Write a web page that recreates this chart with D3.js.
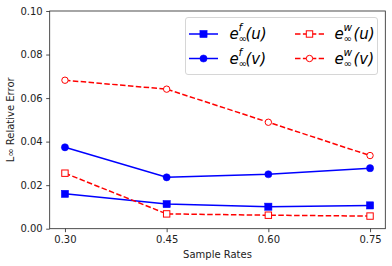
<!DOCTYPE html>
<html><head><meta charset="utf-8">
<script src="https://cdn.jsdelivr.net/npm/d3@7"></script>
<style>body{margin:0;background:#fff}svg{display:block}text{font-family:"DejaVu Sans",sans-serif}</style>
</head><body>
<svg id="c" width="392" height="266"></svg>
<script>
const rates = [0.30, 0.45, 0.60, 0.75];
const efU = [0.0160, 0.0113, 0.0101, 0.0107];
const efV = [0.0374, 0.0236, 0.0250, 0.0278];
const ewU = [0.0255, 0.0068, 0.0062, 0.0058];
const ewV = [0.0682, 0.0641, 0.0489, 0.0336];
const xTicks = [0.30, 0.45, 0.60, 0.75];
const yTicks = [0.00, 0.02, 0.04, 0.06, 0.08, 0.10];

const svg = d3.select("#c");
const L = 49.7, R = 385.3, T = 11, B = 228.7;
const x = d3.scaleLinear().domain([0.2775, 0.7725]).range([L, R]);
const y = d3.scaleLinear().domain([0, 0.10]).range([B, T]);

const xa = svg.append("g").attr("transform", `translate(0,${B})`)
  .call(d3.axisBottom(x).tickValues(xTicks).tickFormat(d3.format(".2f")).tickSize(3.5).tickPadding(3.5));
const ya = svg.append("g").attr("transform", `translate(${L},0)`)
  .call(d3.axisLeft(y).tickValues(yTicks).tickFormat(d3.format(".2f")).tickSize(3.5).tickPadding(3.5));
[xa, ya].forEach(a => {
  a.select(".domain").remove();
  a.selectAll("text").attr("font-size", 10).attr("fill", "#222").attr("font-family", "DejaVu Sans");
  a.selectAll("line").attr("stroke", "#222").attr("stroke-width", 0.8);
});
svg.append("rect").attr("x", L).attr("y", T).attr("width", R - L).attr("height", B - T)
  .attr("fill", "none").attr("stroke", "#222").attr("stroke-width", 0.8);

svg.append("text").attr("x", (L + R) / 2).attr("y", 258).attr("text-anchor", "middle")
  .attr("font-size", 10).attr("fill", "#222").text("Sample Rates");
svg.append("text").attr("transform", `translate(14,${(T + B) / 2}) rotate(-90)`).attr("text-anchor", "middle")
  .attr("font-size", 10).attr("fill", "#222").text("L∞ Relative Error");

const series = [
  {vals: efU, color: "#0000ff", dash: null, marker: "s", fill: true},
  {vals: efV, color: "#0000ff", dash: null, marker: "o", fill: true},
  {vals: ewU, color: "#ff0000", dash: "5.5,2.4", marker: "s", fill: false},
  {vals: ewV, color: "#ff0000", dash: "5.5,2.4", marker: "o", fill: false}
];
const line = d3.line().x((d, i) => x(rates[i])).y(d => y(d));

function marker(g, m, cx, cy, s) {
  const fc = s.fill ? s.color : "#fff";
  if (m === "s") {
    const h = s.fill ? 3.6 : 3.2;
    g.append("rect").attr("x", cx - h).attr("y", cy - h).attr("width", 2 * h).attr("height", 2 * h)
      .attr("fill", fc).attr("stroke", s.color).attr("stroke-width", s.fill ? 0.5 : 1);
  } else {
    g.append("circle").attr("cx", cx).attr("cy", cy).attr("r", s.fill ? 3.6 : 3.2)
      .attr("fill", fc).attr("stroke", s.color).attr("stroke-width", s.fill ? 0.5 : 1);
  }
}

series.forEach(s => {
  const g = svg.append("g");
  g.append("path").attr("d", line(s.vals)).attr("fill", "none").attr("stroke", s.color)
    .attr("stroke-width", 1.5).attr("stroke-dasharray", s.dash);
  s.vals.forEach((v, i) => marker(g, s.marker, x(rates[i]), y(v), s));
});

// legend
const lg = svg.append("g");
lg.append("rect").attr("x", 185.5).attr("y", 17.5).attr("width", 192).attr("height", 57).attr("rx", 2.5)
  .attr("fill", "#fff").attr("fill-opacity", 0.8).attr("stroke", "#ccc").attr("stroke-width", 0.8);
const entries = [
  {s: series[0], col: 0, row: 0, sup: "f", arg: "(u)"},
  {s: series[1], col: 0, row: 1, sup: "f", arg: "(v)"},
  {s: series[2], col: 1, row: 0, sup: "w", arg: "(u)"},
  {s: series[3], col: 1, row: 1, sup: "w", arg: "(v)"}
];
entries.forEach(e => {
  const lx = e.col === 0 ? 189 : 295;
  const ly = e.row === 0 ? 34 : 58.5;
  lg.append("line").attr("x1", lx).attr("x2", lx + 29).attr("y1", ly).attr("y2", ly)
    .attr("stroke", e.s.color).attr("stroke-width", 1.5).attr("stroke-dasharray", e.s.dash);
  marker(lg, e.s.marker, lx + 14.5, ly, e.s);
  const tx = e.col === 0 ? 229.5 : 334.5;
  const by = ly + 5;
  lg.append("text").attr("x", tx).attr("y", by).attr("font-size", 15).attr("font-style", "italic").attr("fill", "#000").text("e");
  lg.append("text").attr("x", tx + 9).attr("y", by - 8).attr("font-size", 10.5).attr("font-style", "italic").attr("fill", "#000").text(e.sup);
  lg.append("text").attr("x", tx + 9).attr("y", by + 3).attr("font-size", 10).attr("fill", "#000").text("∞");
  lg.append("text").attr("x", e.sup === "f" ? tx + 16 : tx + 19).attr("y", by).attr("font-size", 15).attr("font-style", "italic").attr("fill", "#000").text(e.arg);
});
</script>
</body></html>
